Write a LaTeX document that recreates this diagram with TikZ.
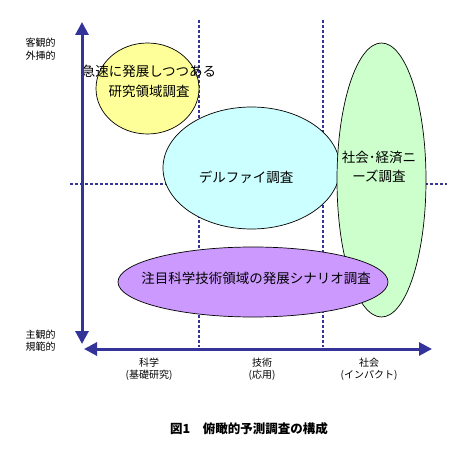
\documentclass[tikz,border=0pt]{standalone}
\usepackage{fontspec}
\setmainfont{Noto Sans CJK JP}
\usetikzlibrary{shapes.geometric, arrows.meta, positioning}
\definecolor{axisblue}{RGB}{51, 51, 153}
\definecolor{rapidyellow}{RGB}{255, 255, 153}
\definecolor{delphicyan}{RGB}{204, 255, 255}
\definecolor{needsgreen}{RGB}{204, 255, 204}
\definecolor{scenariopurple}{RGB}{204, 153, 255}

\begin{document}
\begin{tikzpicture}[x=1pt, y=-1pt,
  axis/.style={draw=axisblue, line width=3pt, {Triangle[length=13pt, width=13pt]}-{Triangle[length=13pt, width=13pt]}},
  gridline/.style={draw=axisblue, line width=1.5pt, dash pattern=on 3pt off 2pt},
  survey/.style={ellipse, draw=black, line width=0.7pt, inner sep=0pt},
  surveytext/.style={align=center, inner sep=0pt, font=\fontsize{13.5}{19.5}\selectfont},
  axistext/.style={align=center, inner sep=0pt, font=\fontsize{10}{12.5}\selectfont}]
  \useasboundingbox (0,0) rectangle (466,457);

  % dashed division lines
  \coordinate (scitop) at (199,20);
  \coordinate (scibot) at (199,347);
  \coordinate (techtop) at (323,20);
  \coordinate (techbot) at (323,347);
  \coordinate (midleft) at (70,184);
  \coordinate (midright) at (447,184);
  \draw[gridline] (scitop) -- (scibot);
  \draw[gridline] (techtop) -- (techbot);
  \draw[gridline] (midleft) -- (midright);

  % surveys
  \node[survey, fill=rapidyellow, minimum width=103pt, minimum height=91pt] (kyusoku) at (147.5,88.5) {};
  \node[survey, fill=delphicyan, minimum width=177pt, minimum height=122pt] (delphi) at (251.5,168) {};
  \node[survey, fill=needsgreen, minimum width=89pt, minimum height=274pt] (needs) at (381.5,180) {};
  \node[survey, fill=scenariopurple, minimum width=270pt, minimum height=70pt] (scenario) at (253,282) {};

  \node[surveytext] (kyusokutext) at (149,81.5) {急速に発展しつつある\\研究領域調査};
  \node[surveytext] (delphitext) at (246,177) {デルファイ調査};
  \node[surveytext] (needstext) at (379,167) {社会･経済ニ\\ーズ調査};
  \node[surveytext] (scenariotext) at (256,278) {注目科学技術領域の発展シナリオ調査};

  % axes
  \coordinate (ytop) at (82,22);
  \coordinate (ybot) at (82,344);
  \coordinate (xleft) at (84,349);
  \coordinate (xright) at (432,349);
  \draw[axis] (ybot) -- (ytop);
  \draw[axis] (xleft) -- (xright);

  \node[axistext] (objective) at (40.5,49) {客観的\\外挿的};
  \node[axistext] (subjective) at (40.5,340.5) {主観的\\規範的};
  \node[axistext] (science) at (149,369.5) {科学\\(基礎研究)};
  \node[axistext] (technology) at (262,369.5) {技術\\(応用)};
  \node[axistext] (society) at (369,369.5) {社会\\(インパクト)};

  \node[inner sep=0pt, font=\fontsize{12.5}{14}\selectfont\bfseries] (caption) at (249,429) {図1　俯瞰的予測調査の構成};
\end{tikzpicture}
\end{document}
